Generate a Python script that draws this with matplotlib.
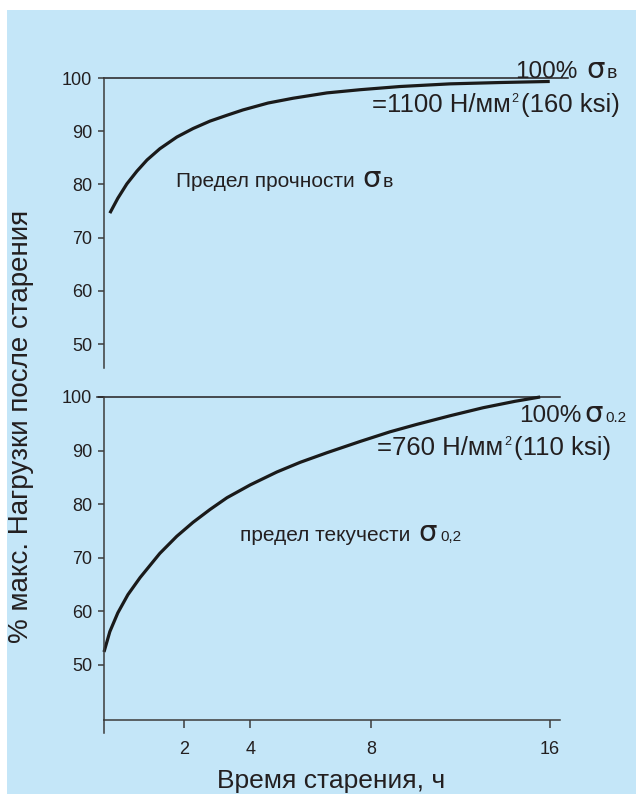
import numpy as np
import matplotlib
matplotlib.use('Agg')
import matplotlib.pyplot as plt
from matplotlib.patches import Rectangle

plt.rcParams['font.family'] = ['Liberation Sans', 'DejaVu Sans']

# tensile strength after aging (top panel), % of max vs hours
hours_top = [0.61, 0.76, 0.93, 1.12, 1.31, 1.55, 1.87, 2.28, 2.79, 3.30, 3.78,
             4.59, 5.42, 6.54, 7.64, 9.30, 11.54, 13.78, 16.0]
strength_pct = [74.6, 77.4, 80.1, 82.5, 84.6, 86.7, 88.9, 90.5, 91.9, 93.0, 94.0,
                95.3, 96.2, 97.2, 97.8, 98.4, 98.9, 99.15, 99.35]

# yield strength after aging (bottom panel), % of max vs hours
hours_bot = [0.5, 0.61, 0.76, 0.95, 1.18, 1.55, 1.87, 2.28, 2.79, 3.30, 4.0,
             4.88, 5.65, 6.54, 7.64, 8.85, 10.06, 11.54, 13.02, 14.45, 15.57]
yield_pct = [52.4, 56.2, 59.7, 63.1, 66.3, 70.8, 74.0, 76.6, 79.0, 81.2, 83.6,
             86.0, 87.8, 89.6, 91.7, 93.5, 94.9, 96.5, 98.0, 99.2, 100.0]

x_ticks = [2, 4, 8, 16]
y_ticks = [50, 60, 70, 80, 90, 100]

W, H = 636, 794
BG = '#c4e6f8'
INK = '#231f20'
AX = '#3c3c3c'

# the time axis in the original is drawn by hand, it is neither linear nor log
knot_x = [0, 0.5, 2, 4, 8, 16, 20]
knot_px = [77.4, 104, 183.7, 250.3, 371, 549.7, 639]


def fwd(x):
    return np.interp(x, knot_x, knot_px)


def inv(p):
    return np.interp(p, knot_px, knot_x)


def fig_pos(px, py):
    return px / W, 1 - py / H


fig = plt.figure(figsize=(W / 100, H / 100), dpi=100)
fig.patch.set_facecolor('white')
fig.patches.append(Rectangle((7 / W, 0), 1, (H - 10) / H, transform=fig.transFigure,
                             facecolor=BG, edgecolor='none', zorder=-10))

left, right = 104, 560
ax1 = fig.add_axes([left / W, 1 - 368 / H, (right - left) / W, (368 - 78) / H])
ax2 = fig.add_axes([left / W, 1 - 720 / H, (right - left) / W, (720 - 397) / H])

for ax in (ax1, ax2):
    ax.set_facecolor('none')
    ax.set_xscale('function', functions=(fwd, inv))
    ax.set_xlim(0.5, 16.46)
    for s in ('top', 'right'):
        ax.spines[s].set_visible(False)
    for s in ('left', 'bottom'):
        ax.spines[s].set_color(AX)
        ax.spines[s].set_linewidth(1.1)
    ax.set_yticks(y_ticks)
    ax.tick_params(axis='y', direction='out', length=4.5, width=1.1, color=AX,
                   labelsize=13, labelcolor=INK, pad=4)

ax1.set_ylim(45.5, 100)
ax2.set_ylim(39.7, 100)

ax1.spines['bottom'].set_visible(False)
ax1.set_xticks([])

ax2.set_xticks(x_ticks)
ax2.set_xticklabels([str(t) for t in x_ticks])
ax2.tick_params(axis='x', direction='out', length=6, width=1.1, color=AX,
                labelsize=13, labelcolor=INK, pad=9)
# longer tick at the origin of the time axis
ax2.plot([0, 0], [0, -13 / 323], transform=ax2.transAxes, color=AX, lw=1.1, clip_on=False)

# 100 % reference lines
ax1.plot([0, (568 - left) / (right - left)], [1, 1], transform=ax1.transAxes,
         color=INK, lw=1.1, clip_on=False)
ax2.plot([-7 / (right - left), 1], [1, 1], transform=ax2.transAxes,
         color=INK, lw=1.1, clip_on=False)

ax1.plot(hours_top, strength_pct, color='#1a1a1a', lw=2.3, clip_on=False,
         solid_capstyle='butt', solid_joinstyle='round')
ax2.plot(hours_bot, yield_pct, color='#1a1a1a', lw=2.3, clip_on=False,
         solid_capstyle='butt', solid_joinstyle='round')


def put(px, py, s, size, **kw):
    x, y = fig_pos(px, py)
    fig.text(x, y, s, fontsize=size, color=INK, va='baseline', ha='left', **kw)


# top panel annotations
put(176, 187, 'Предел прочности', 15)
put(362, 187, 'σ', 21, family=['DejaVu Sans'])
put(383, 187, 'в', 14)
put(515, 78, '100%', 17.5)
put(586, 78, 'σ', 21, family=['DejaVu Sans'])
put(607, 78, 'в', 14)
put(372, 112, '=1100 Н/мм', 18.5)
put(511, 102, '2', 9)
put(521, 112, '(160 ksi)', 18.5)

# bottom panel annotations
put(240, 541, 'предел текучести', 15)
put(418, 541, 'σ', 21, family=['DejaVu Sans'])
put(440, 541, '0,2', 11)
put(519, 422, '100%', 17.5)
put(584, 422, 'σ', 21, family=['DejaVu Sans'])
put(605, 422, '0.2', 11)
put(377, 455, '=760 Н/мм', 18.5)
put(504, 445, '2', 9)
put(514, 455, '(110 ksi)', 18.5)

# axis titles
fx, fy = fig_pos(21, 426)
fig.text(fx, fy, '% макс. Нагрузки после старения', rotation=90, fontsize=20,
         color=INK, ha='center', va='center')
fx, fy = fig_pos(331, 788)
fig.text(fx, fy, 'Время старения, ч', fontsize=19, color=INK, ha='center', va='baseline')

fig.savefig('out.png', dpi=100, facecolor=fig.get_facecolor())
